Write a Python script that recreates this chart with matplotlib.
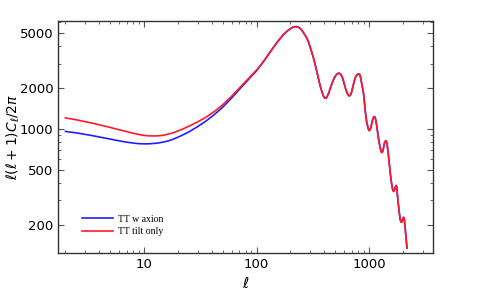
import matplotlib
matplotlib.use('Agg')
import matplotlib.pyplot as plt
from matplotlib.ticker import FixedLocator, NullFormatter, LogLocator

# multipoles
ell_low = [2, 2.5, 3, 3.5, 4, 4.5, 5, 5.5, 6, 7, 8, 9, 10, 11, 12, 13.5, 15, 16.5, 18, 21, 25, 30,
           36, 43, 50, 60, 71, 85, 100]
axion_low = [958, 935, 912, 892, 873, 857, 842, 829, 818, 800, 788, 780, 777, 778, 782, 790, 802,
             818, 838, 885, 950, 1040, 1150, 1290, 1440, 1680, 1960, 2300, 2660]
tilt_low = [1203, 1165, 1130, 1100, 1072, 1048, 1025, 1004, 986, 955, 930, 910, 897, 890, 888, 890,
            900, 916, 935, 980, 1045, 1125, 1225, 1355, 1500, 1730, 2000, 2340, 2690]

ell_high = [110, 120, 130, 140, 155, 172, 188, 200, 210, 218, 226, 235, 247, 259, 270, 280, 290,
            299, 312, 324, 337, 350, 362, 375, 385, 395, 401, 406, 413, 420, 435, 450, 470,
            490, 505, 520, 531, 541, 553, 565, 582, 600, 620, 640, 655, 667, 683, 700, 720,
            740, 760, 780, 798, 815, 828, 840, 855, 870, 880, 892, 910, 930, 950, 970, 987,
            1003, 1020, 1040, 1060, 1080, 1096, 1112, 1130, 1150, 1175, 1200, 1225, 1250, 1273,
            1295, 1318, 1340, 1360, 1380, 1398, 1416, 1433, 1450, 1475, 1500, 1530, 1560, 1585,
            1610, 1630, 1650, 1675, 1700, 1720, 1740, 1760, 1780, 1805, 1830, 1855, 1880, 1900,
            1921, 1945, 1970, 2000, 2029, 2055, 2080, 2105, 2130, 2150, 2173]
cl_high = [2950, 3250, 3570, 3900, 4370, 4850, 5200, 5400, 5520, 5580, 5590, 5540, 5380, 5100,
           4840, 4600, 4300, 3970, 3560, 3190, 2800, 2450, 2170, 1950, 1820, 1720, 1690, 1675,
           1675, 1700, 1800, 1950, 2170, 2350, 2450, 2520, 2545, 2550, 2530, 2480, 2350, 2150,
           1950, 1820, 1760, 1741, 1765, 1860, 2050, 2250, 2400, 2480, 2515, 2520, 2490, 2380,
           2200, 2050, 1950, 1830, 1550, 1300, 1140, 1050, 995, 972, 985, 1030, 1110, 1180, 1215,
           1230, 1215, 1150, 1030, 900, 810, 740, 695, 671, 680, 720, 770, 800, 815, 817, 800,
           760, 680, 600, 510, 440, 400, 370, 356, 349, 355, 370, 380, 386, 378, 340, 300, 270,
           245, 225, 215, 209, 208, 215, 222, 226, 220, 200, 180, 160, 148, 135]

ell_axion = ell_low + ell_high
cl_axion = axion_low + cl_high
ell_tilt = ell_low + ell_high
cl_tilt = tilt_low + cl_high

y_ticks = [200, 500, 1000, 2000, 5000]
x_ticks = [10, 100, 1000]

fig = plt.figure(figsize=(4.85, 3.0), dpi=100)
ax = fig.add_axes([0.1196, 0.1567, 0.7732, 0.7733])

ax.plot(ell_axion, cl_axion, color='#2020ff', lw=1.2, label='TT w axion')
ax.plot(ell_tilt, cl_tilt, color='#ff1a2a', lw=1.2, label='TT tilt only')

ax.set_xscale('log')
ax.set_yscale('log')
ax.set_xlim(1.72, 3700)
ax.set_ylim(124, 6140)

ax.yaxis.set_major_locator(FixedLocator(y_ticks))
ax.set_yticklabels([str(v) for v in y_ticks])
ax.yaxis.set_minor_locator(LogLocator(base=10, subs=range(1, 10)))
ax.yaxis.set_minor_formatter(NullFormatter())
ax.xaxis.set_major_locator(FixedLocator(x_ticks))
ax.set_xticklabels([str(v) for v in x_ticks])
ax.xaxis.set_minor_locator(LogLocator(base=10, subs=range(1, 10)))
ax.xaxis.set_minor_formatter(NullFormatter())

ax.tick_params(which='both', direction='in', top=True, right=True, color='#555555')
ax.tick_params(which='major', length=4, width=0.8, labelsize=9.5)
ax.tick_params(which='minor', length=2, width=0.6)
for s in ax.spines.values():
    s.set_color('#333333')
    s.set_linewidth(1.0)

ax.set_xlabel(r'$\ell$', fontsize=11)
ax.set_ylabel(r'$\ell(\ell+1)C_\ell/2\pi$', fontsize=10)
ax.yaxis.set_label_coords(-0.095, 0.5)

leg = ax.legend(loc='lower left', bbox_to_anchor=(0.04, 0.035), frameon=False,
                prop={'family': 'Liberation Serif', 'size': 7},
                handlelength=3.2, handletextpad=0.5, labelspacing=0.35)

fig.savefig('out.png', dpi=100)
